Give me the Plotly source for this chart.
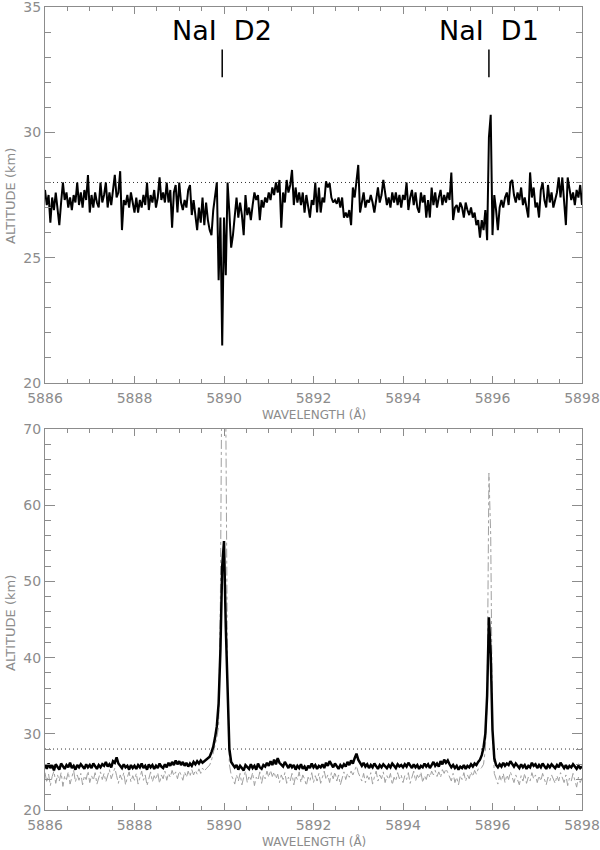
import plotly.graph_objects as go

# ---------------- data ----------------
wl_start = 5886.0
wl_step = 0.04

# top panel: altitude (km)
top_alt = [
    27.7, 27.1, 27.5, 26.4, 27.4, 26.9, 27.6, 27.0, 26.3, 27.2, 28.0, 27.3, 27.6, 27.0, 27.4, 26.9, 27.5, 27.2, 28.0, 27.1, 27.6, 27.0, 27.7, 27.3, 28.3, 26.8,
    27.5, 27.0, 27.6, 27.2, 27.0, 28.0, 27.2, 27.5, 28.0, 27.0, 27.6, 27.1, 27.8, 28.3, 27.4, 27.6, 28.45, 26.1, 27.3, 27.1, 27.5, 27.0, 27.6, 27.2, 26.8,
    27.4, 26.8, 27.3, 27.0, 27.5, 27.1, 28.0, 26.9, 27.5, 27.2, 27.7, 27.0, 27.4, 28.2, 27.3, 27.6, 27.2, 28.0, 27.2, 27.7, 26.2, 27.6, 27.9, 26.8, 28.0,
    27.2, 26.9, 27.3, 27.0, 27.7, 27.9, 26.7, 27.3, 26.8, 26.1, 27.0, 26.4, 27.4, 26.3, 27.2, 26.5, 26.1, 25.9, 26.9, 27.4, 28.0, 24.1, 26.6, 21.5, 26.6, 24.3, 28.0, 26.8, 25.4, 25.9, 26.6, 27.4,
    26.6, 27.2, 26.7, 25.9, 27.5, 26.7, 27.0, 26.5, 27.1, 27.6, 27.3, 27.5, 26.5, 27.3, 27.0, 27.4, 27.2, 27.6, 27.3, 27.8, 27.5, 28.0, 27.6, 28.1, 26.2, 27.6, 27.2, 28.1, 27.6, 27.9, 28.5, 27.1, 27.8, 27.2, 27.6, 27.1,
    27.6, 26.8, 27.5, 27.0, 26.6, 27.3, 27.1, 28.0, 26.8, 27.8, 26.8, 27.4, 27.2, 28.05, 27.8, 27.97, 27.4, 27.2, 27.3, 27.15, 27.4, 27.0, 27.4, 26.6, 26.8, 26.6, 26.9, 26.3, 27.8, 27.4, 28.2, 28.7,
    26.8, 27.3, 27.6, 27.0, 27.3, 27.2, 27.5, 27.2, 26.8, 27.3, 27.8, 27.2, 27.5, 28.1, 27.5, 27.1, 27.4, 27.0, 27.6, 27.2, 27.6, 27.1, 27.5, 27.0, 27.5,
    27.3, 28.0, 26.9, 27.4, 27.7, 27.1, 27.6, 27.0, 26.8, 27.6, 27.2, 27.5, 26.6, 27.3, 26.6, 27.8, 27.1, 27.6, 27.0, 27.4, 27.7, 27.1, 27.5, 27.2, 27.6,
    27.3, 28.4, 26.5, 27.0, 27.1, 26.8, 27.2, 27.0, 26.6, 27.2, 26.9, 26.7, 27.0, 26.6, 26.8, 26.3, 26.5, 25.8, 26.5, 26.1, 26.9, 25.7, 29.8, 30.7, 25.9,
    27.5, 26.9, 26.1, 27.0, 27.3, 27.0, 27.4, 27.6, 27.1, 28.0, 28.1, 27.5, 27.2, 27.6, 27.3, 27.8, 27.1, 27.4, 27.0, 26.6, 28.4, 27.4, 27.8, 27.0, 27.2,
    26.6, 27.7, 28.0, 27.3, 27.0, 27.9, 27.2, 27.6, 27.0, 27.3, 27.6, 28.2, 27.4, 28.2, 27.3, 26.3, 28.2, 27.7, 27.3, 27.6, 27.1, 27.7, 27.4, 27.9, 27.1,
]

# bottom panel: black curve
bottom_alt = [
    26.0, 25.4, 26.1, 25.5, 25.9, 25.2, 26.0, 25.6, 25.3, 26.1, 25.8, 25.4, 25.9, 25.6, 26.2, 25.5, 25.8, 25.3, 25.9, 25.6, 26.0, 25.7, 25.4, 26.0, 25.6, 25.9,
    25.5, 26.1, 25.7, 25.4, 25.9, 25.6, 26.0, 25.8, 26.3, 25.7, 26.0, 25.6, 26.4, 26.2, 26.9, 26.1, 25.8, 25.5, 26.0, 25.6, 25.8, 25.3, 25.9, 25.5, 25.8,
    25.4, 25.9, 25.6, 26.1, 25.5, 25.8, 25.3, 26.0, 25.6, 25.9, 25.4, 25.8, 25.5, 26.1, 25.7, 25.5, 26.0, 25.6, 26.2, 25.8, 26.3, 25.9, 26.5, 26.0, 26.4,
    25.9, 26.3, 25.8, 26.2, 25.7, 26.1, 25.8, 26.3, 26.0, 26.4, 26.1, 26.5, 26.2, 26.4,
    26.6, 26.8, 27.0, 27.6, 28.3, 29.5, 31.0, 34.0, 41.0, 52.0, 55.3, 44.0, 35.0, 28.0, 26.3,
    26.0, 25.6, 25.9, 25.3, 25.8, 25.5, 25.2, 25.9, 25.6, 25.4, 26.0, 25.5, 25.8, 25.3, 26.1, 25.6, 25.4, 25.9, 25.7, 26.2, 25.8,
    26.4, 25.9, 26.6, 26.0, 26.8, 26.2, 26.0, 25.7, 26.3, 25.8, 25.5, 26.0, 25.6, 25.9, 25.3, 25.8, 25.5, 26.0, 25.4, 25.7, 25.2, 25.8, 25.5, 26.1, 25.6,
    25.9, 25.4, 25.8, 25.6, 26.0, 25.5, 26.2, 25.8, 26.4, 25.9, 25.6, 26.1, 25.7, 25.4, 25.9, 25.6, 26.0, 25.7, 26.3, 25.9, 26.5, 26.1, 26.8, 27.4, 26.6,
    26.1, 25.8, 26.2, 25.7, 26.0, 25.5, 25.9, 25.6, 26.1, 25.8, 25.4, 25.9, 25.6, 26.0, 25.7, 25.5, 25.9, 25.6, 26.1, 25.8, 25.5, 26.0, 25.7, 25.9, 25.6,
    26.0, 25.7, 26.2, 25.8, 25.5, 26.0, 25.6, 25.9, 25.4, 25.8, 25.6, 26.1, 25.7, 26.0, 25.5, 25.9, 26.3, 25.8, 26.1, 25.7, 26.4, 26.0, 26.6, 26.2, 26.5,
    26.0, 25.6, 25.9, 25.5, 25.8, 25.3, 25.7, 25.5, 25.9, 25.4, 25.8, 25.6, 26.0, 25.7, 26.1, 25.9, 26.3,
    26.6, 27.2, 28.2, 30.0, 35.0, 45.3, 40.5, 30.5, 26.8,
    25.9, 25.6, 26.0, 25.7, 26.2, 25.8, 26.1, 25.9, 26.4, 26.0, 25.7, 26.1, 25.8, 25.5, 26.0, 25.6, 25.9, 25.4, 25.8, 25.6, 26.2, 25.8, 26.0, 25.5,
    25.9, 25.6, 26.1, 25.7, 25.4, 25.9, 25.6, 26.0, 25.7, 25.5, 25.9, 25.6, 26.2, 25.8, 25.5, 25.9, 25.4, 25.8, 25.6, 26.0, 25.7, 25.4, 25.8, 25.5, 25.7,
]

# bottom panel: grey dash-dot curve
bottom_alt_grey = [
    24.9, 23.6, 24.7, 23.2, 24.4, 25.1, 23.5, 24.6, 23.8, 24.9, 23.1, 24.5, 24.0, 25.0, 23.4, 24.3, 25.2, 23.7, 24.6, 23.9, 24.8, 23.3, 24.5, 24.0, 25.1, 23.6,
    24.5, 23.9, 24.9, 23.4, 24.3, 25.0, 24.0, 24.8, 23.7, 24.6, 25.3, 24.1, 24.9, 25.5, 24.5, 23.5, 24.6, 24.0, 24.9, 23.3, 24.3, 25.0, 23.7, 24.5, 23.9,
    24.8, 23.4, 24.3, 25.1, 23.9, 24.6, 23.2, 24.2, 25.0, 23.7, 24.5, 24.0, 24.9, 23.5, 24.6, 24.1, 25.1, 23.9, 24.8, 24.3, 25.2, 24.5, 25.0, 24.1, 25.1,
    24.6, 23.9, 25.0, 24.3, 25.1, 24.4, 25.3, 24.6, 25.2, 24.7, 25.4, 24.8, 25.5, 25.1,
    25.4, 25.6, 25.9, 26.5, 27.5, 28.5, 29.5, 31.0, 48.0, 86.0, 88.0, 72.0, 36.0, 26.0, 24.6,
    24.1, 23.4, 24.6, 23.8, 24.8, 23.3, 24.3, 25.1, 23.6, 24.5, 24.0, 24.9, 23.2, 24.3, 23.9, 25.0, 23.5, 24.6, 24.1, 25.1, 24.3,
    25.2, 24.4, 25.0, 24.1, 24.7, 23.6, 24.6, 24.0, 24.9, 23.5, 24.3, 23.8, 24.8, 23.3, 24.5, 24.0, 25.0, 23.6, 24.6, 24.1, 23.2, 24.3, 23.8, 24.9, 23.6,
    24.5, 23.8, 24.8, 23.5, 24.3, 25.1, 24.0, 24.6, 23.6, 24.9, 24.1, 25.0, 23.8, 24.6, 23.3, 24.3, 25.0, 24.0, 24.8, 24.3, 25.1, 24.6, 25.3, 25.8, 24.9,
    24.3, 23.8, 24.8, 23.6, 24.5, 24.0, 24.9, 23.4, 24.3, 25.1, 23.8, 24.6, 24.1, 25.0, 23.6, 24.5, 24.0, 24.8, 23.3, 24.3, 23.8, 24.9, 24.1, 24.6, 23.6,
    24.5, 24.0, 24.9, 23.5, 24.3, 25.1, 23.8, 24.6, 24.1, 25.0, 23.6, 24.5, 24.0, 24.9, 24.3, 25.1, 24.6, 25.2, 24.4, 25.0, 24.3, 25.3, 24.8, 25.4, 24.9,
    24.4, 23.8, 24.8, 23.6, 24.3, 23.3, 24.5, 24.0, 24.9, 23.8, 24.6, 24.1, 25.0, 24.4, 25.2, 24.7, 25.4,
    25.3, 25.6, 26.0, 28.0, 34.0, 64.2, 56.0, 30.0, 24.8,
    24.1, 23.4, 24.5, 23.8, 24.8, 23.6, 24.6, 24.0, 25.0, 24.3, 23.6, 24.6, 24.0, 23.3, 24.5, 23.8, 24.8, 23.5, 24.3, 23.8, 24.9, 24.1, 24.6, 23.6,
    24.5, 23.8, 24.8, 24.0, 23.3, 24.3, 23.8, 24.6, 24.0, 23.5, 24.5, 23.8, 24.9, 24.3, 23.6, 24.6, 23.2, 24.2, 23.8, 24.8, 24.0, 23.0, 24.3, 23.6, 24.2,
]

ref_level = 28.0
line_labels = ["NaI D2", "NaI D1"]
line_positions = [5889.96, 5895.92]
x_ticks = [5886, 5888, 5890, 5892, 5894, 5896, 5898]

n = len(top_alt)
if not (len(bottom_alt) == n and len(bottom_alt_grey) == n):
    raise ValueError(f"length mismatch {n} {len(bottom_alt)} {len(bottom_alt_grey)}")
wavelength = [round(wl_start + wl_step * i, 2) for i in range(n)]

# ---------------- figure ----------------
W, H = 600, 850
ML, MR, MT, MB = 45, 18, 7, 40
ph = H - MT - MB
pw = W - ML - MR
top_dom = [(H - MB - 383) / ph, 1.0]
bot_dom = [0.0, (H - MB - 429) / ph]

AX = "#8c8c8c"
FONT = "DejaVu Sans"

fig = go.Figure()

fig.add_trace(go.Scatter(x=[x_ticks[0], x_ticks[-1]], y=[ref_level, ref_level], mode="lines",
                         line=dict(color="#333333", width=1, dash="1px,3px"),
                         xaxis="x", yaxis="y", hoverinfo="skip"))
fig.add_trace(go.Scatter(x=wavelength, y=top_alt, mode="lines",
                         line=dict(color="black", width=2), xaxis="x", yaxis="y"))

fig.add_trace(go.Scatter(x=[x_ticks[0], x_ticks[-1]], y=[ref_level, ref_level], mode="lines",
                         line=dict(color="#333333", width=1, dash="1px,3px"),
                         xaxis="x2", yaxis="y2", hoverinfo="skip"))
fig.add_trace(go.Scatter(x=wavelength, y=bottom_alt_grey, mode="lines",
                         line=dict(color="#a0a0a0", width=1, dash="dashdot"),
                         xaxis="x2", yaxis="y2"))
fig.add_trace(go.Scatter(x=wavelength, y=bottom_alt, mode="lines",
                         line=dict(color="black", width=2.5), xaxis="x2", yaxis="y2"))

common_x = dict(range=[x_ticks[0], x_ticks[-1]], tickmode="array", tickvals=x_ticks,
                ticks="inside", ticklen=7, tickwidth=1, tickcolor=AX,
                showline=True, linecolor=AX, linewidth=1, mirror="ticks",
                showgrid=False, zeroline=False, automargin=False, ticklabeloverflow="allow",
                ticklabelstandoff=2,
                tickfont=dict(family=FONT, size=14, color=AX),
                minor=dict(dtick=0.5, tick0=5886, ticks="inside", ticklen=4, tickcolor=AX, showgrid=False))
common_y = dict(ticks="inside", ticklen=10, tickwidth=1, tickcolor=AX,
                showline=True, linecolor=AX, linewidth=1, mirror="ticks",
                showgrid=False, zeroline=False, automargin=False, ticklabeloverflow="allow",
                tickfont=dict(family=FONT, size=14, color=AX))

fig.update_layout(
    width=W, height=H, margin=dict(l=ML, r=MR, t=MT, b=MB, autoexpand=False),
    paper_bgcolor="white", plot_bgcolor="white", showlegend=False,
    xaxis=dict(domain=[0, 1], anchor="y", **common_x),
    yaxis=dict(domain=top_dom, anchor="x", range=[20, 35], tickvals=[20, 25, 30, 35],
               minor=dict(dtick=1, tick0=20, ticks="inside", ticklen=6, tickcolor=AX, showgrid=False),
               **common_y),
    xaxis2=dict(domain=[0, 1], anchor="y2", **common_x),
    yaxis2=dict(domain=bot_dom, anchor="x2", range=[20, 70], tickvals=[20, 30, 40, 50, 60, 70],
                minor=dict(dtick=2, tick0=20, ticks="inside", ticklen=6, tickcolor=AX, showgrid=False),
                **common_y),
)

def py(ypix):
    return (H - MB - ypix) / ph

for ytitle in (414, 841):
    fig.add_annotation(text="WAVELENGTH (Å)", xref="paper", yref="paper", x=0.5, y=py(ytitle),
                       showarrow=False, font=dict(family=FONT, size=12, color=AX),
                       xanchor="center", yanchor="middle")
for ytitle in (196, 623):
    fig.add_annotation(text="ALTITUDE (km)", xref="paper", yref="paper", x=(10 - ML) / pw, y=py(ytitle),
                       showarrow=False, textangle=-90, font=dict(family=FONT, size=13, color=AX),
                       xanchor="center", yanchor="middle")

for lab, pos in zip(line_labels, line_positions):
    fig.add_annotation(text=lab.replace(" ", "\u00a0\u00a0"), x=pos, y=34.05, xref="x", yref="y",
                       showarrow=False, font=dict(family=FONT, size=27, color="black"),
                       xanchor="center", yanchor="middle")
    fig.add_shape(type="line", xref="x", yref="y", x0=pos, x1=pos, y0=32.2, y1=33.3,
                  line=dict(color="black", width=1.5))

fig.write_html("out.html", config={"displayModeBar": False},
               post_script="document.body.style.margin='0';document.body.style.overflow='hidden';")
